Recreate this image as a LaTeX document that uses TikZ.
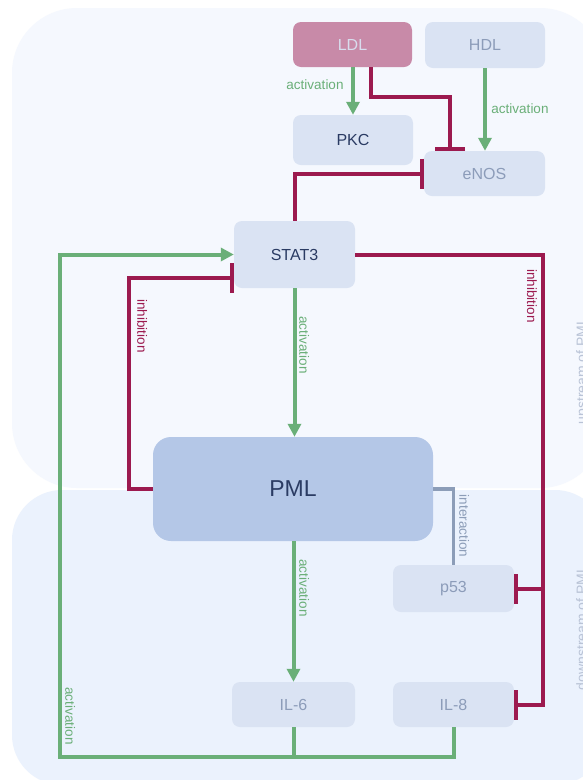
\documentclass[tikz,border=0pt]{standalone}
\usepackage{fontspec}
\setmainfont{Liberation Sans}
\usetikzlibrary{arrows.meta}

\definecolor{upcol}{HTML}{F5F8FE}
\definecolor{downcol}{HTML}{EBF2FD}
\definecolor{nodefill}{HTML}{DAE3F3}
\definecolor{pmlfill}{HTML}{B4C7E7}
\definecolor{ldlfill}{HTML}{C88AA8}
\definecolor{actcol}{HTML}{6AAF78}
\definecolor{inhcol}{HTML}{9C1A4F}
\definecolor{intcol}{HTML}{8C9DB8}
\definecolor{darktext}{HTML}{2A3B63}
\definecolor{softtext}{HTML}{8C9CB9}
\definecolor{ldltext}{HTML}{D8DDEE}
\definecolor{regiontext}{HTML}{B9C3D6}

\tikzset{
  box/.style={rounded corners=8pt, fill=nodefill, minimum width=120pt,
    minimum height=46pt, inner sep=0pt, text=softtext,
    font=\fontsize{16}{19}\selectfont},
  act/.style={draw=actcol, line width=4pt, -{Triangle[length=13pt,width=13pt]}},
  actline/.style={draw=actcol, line width=4pt},
  inh/.style={draw=inhcol, line width=4pt, -{Bar[width=30pt]}},
  inhline/.style={draw=inhcol, line width=4pt},
  intline/.style={draw=intcol, line width=3.5pt},
  lab/.style={inner sep=0pt, font=\fontsize{13.5}{15}\selectfont},
  actlab/.style={lab, text=actcol},
  inhlab/.style={lab, text=inhcol},
  intlab/.style={lab, text=intcol},
  regionlab/.style={inner sep=0pt, text=regiontext, rotate=90, anchor=north,
    font=\fontsize{14}{16}\selectfont},
}

\begin{document}
\begin{tikzpicture}[x=1pt, y=-1pt]
\useasboundingbox (0,0) rectangle (583,780);
\fill[white] (0,0) rectangle (583,780);

% regions
\begin{scope}
  \clip (0,0) rectangle (583,780);
  \fill[downcol, rounded corners=50pt] (12,490) rectangle (605,785);
  \fill[upcol, rounded corners=65pt] (12,8) rectangle (605,488);
  \node[regionlab] (uplab) at (576,371) {upstream of PML};
  \node[regionlab] (downlab) at (576,628) {downstream of PML};
\end{scope}

% nodes
\node[box, fill=ldlfill, text=ldltext, minimum width=119pt, minimum height=45pt] (ldl) at (352.5,44.5) {LDL};
\node[box] (hdl) at (485,45) {HDL};
\node[box, text=darktext, minimum height=50pt] (pkc) at (353,140) {PKC};
\node[box, minimum width=121pt, minimum height=45pt] (enos) at (484.5,173.5) {eNOS};
\node[box, text=darktext, minimum width=121pt, minimum height=67pt] (stat3) at (294.5,254.5) {STAT3};
\node[box, fill=pmlfill, text=darktext, rounded corners=18pt, minimum width=280pt,
  minimum height=104pt, font=\fontsize{23}{27}\selectfont] (pml) at (293,489) {PML};
\node[box, minimum width=121pt, minimum height=47pt] (p53) at (453.5,588.5) {p53};
\node[box, minimum width=123pt, minimum height=45pt] (il6) at (293.5,704.5) {IL-6};
\node[box, minimum width=121pt, minimum height=45pt] (il8) at (453.5,704.5) {IL-8};

% helper coordinates for routed connectors
\coordinate (rx) at (543,0);
\coordinate (fb) at (60,757);

% LDL / HDL
\draw[act] (ldl.south -| pkc.center) -- (pkc.north);
\draw[inh] ([xshift=18.5pt]ldl.south) -- ++(0,30) -| ([xshift=-34.5pt]enos.north);
\draw[act] (hdl.south) -- (hdl.south |- enos.north);

% STAT3 and PML
\draw[inh] (stat3.north) |- (enos.west);
\draw[act] (stat3.south) -- (stat3.south |- pml.north);
\draw[inh] (pml.west) -- ++(-24,0) |- ([yshift=-23.5pt]stat3.west);
\draw[inh] (stat3.east) -| (rx |- il8.east) -- (il8.east);
\draw[inh] (rx |- p53.east) -- (p53.east);
\draw[act] (pml.south -| il6.center) -- (il6.north);
\draw[intline] (pml.east) -| (p53.north);

% feedback from IL-6 / IL-8
\draw[actline] (il6.south) -- (il6.south |- fb);
\draw[act] (il8.south) |- (fb) |- (stat3.west);

% edge labels
\node[actlab] (l1) at (315,85) {activation};
\node[actlab] (l2) at (520,109) {activation};
\node[actlab, rotate=-90, anchor=south] (l3) at (299,345) {activation};
\node[inhlab, rotate=-90, anchor=south] (l4) at (137,326) {inhibition};
\node[inhlab, rotate=-90, anchor=north] (l5) at (537,296) {inhibition};
\node[actlab, rotate=-90, anchor=south] (l6) at (299,588) {activation};
\node[intlab, rotate=-90, anchor=south] (l7) at (459,526) {interaction};
\node[actlab, rotate=-90, anchor=south] (l8) at (65,716) {activation};
\end{tikzpicture}
\end{document}
